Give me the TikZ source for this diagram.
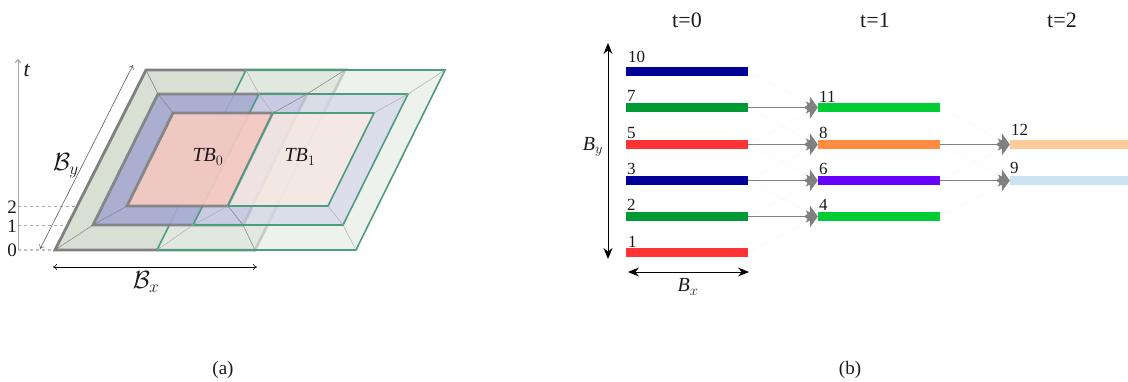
\documentclass[tikz,border=0pt]{standalone}
\usepackage{fontspec}
\setmainfont{Liberation Serif}
\usepackage{xcolor}
\usetikzlibrary{positioning,arrows.meta}
\definecolor{ink}{HTML}{1B1919}
\definecolor{edgeGray}{HTML}{808080}
\definecolor{edgeTeal}{HTML}{4E9C80}
\definecolor{sDarkBlue}{HTML}{000099}
\definecolor{sDarkGreen}{HTML}{009933}
\definecolor{sRed}{HTML}{FF3333}
\definecolor{sGreen}{HTML}{00CC33}
\definecolor{sOrange}{HTML}{FF8C40}
\definecolor{sViolet}{HTML}{6600FF}
\definecolor{sPeach}{HTML}{FFCC99}
\definecolor{sSky}{HTML}{CCE3F2}
\definecolor{zeroOut}{RGB}{216,224,212}
\definecolor{zeroMid}{RGB}{165,170,210}
\definecolor{zeroIn}{RGB}{248,203,193}
\definecolor{oneOut}{RGB}{229,236,228}
\definecolor{oneMid}{RGB}{213,215,235}
\definecolor{oneIn}{RGB}{255,236,226}
\tikzset{
  sz/.style={font=\fontsize{#1}{#1}\selectfont},
  numb/.style={sz=17, inner sep=0pt, anchor=base west, text=ink},
  lbl/.style={sz=20, text=ink},
}
\begin{document}
\begin{tikzpicture}[x=1pt, y=-1pt,
  zero/.style={line join=miter, draw=edgeGray, line width=2.8pt},
  one/.style={line join=miter, draw=edgeTeal, line width=1.6pt, fill opacity=0.7},
  bevel/.style={draw=ink!55, line width=0.5pt},
  barn/.style={rectangle, inner sep=0pt, minimum width=122pt, minimum height=9pt},
  arr/.style={-{Stealth[length=12pt, width=12pt, inset=3pt, color=edgeGray]}, draw=edgeGray, line width=1pt},
  ghost/.style={-{Stealth[length=12pt, width=12pt, inset=3pt, color=edgeGray]}, draw=ink!4, line width=0.5pt},
  span/.style={{Stealth[length=11pt, width=9pt]}-{Stealth[length=11pt, width=9pt]}, draw=black, line width=1pt},
  thin arr/.style={{To[length=4pt, width=6pt]}-{To[length=4pt, width=6pt]}, line width=0.6pt}]
\useasboundingbox (0,0) rectangle (1128,381);
% corners of TB0
\coordinate (a0) at (55,250); \coordinate (b0) at (255,250); \coordinate (c0) at (345,70); \coordinate (d0) at (146,70);
\coordinate (e0) at (93,225); \coordinate (f0) at (243,225); \coordinate (g0) at (307,94); \coordinate (h0) at (158,94);
\coordinate (i0) at (127,206); \coordinate (j0) at (228,206); \coordinate (k0) at (273,113); \coordinate (l0) at (173,113);
% corners of TB1
\coordinate (a1) at (157,250); \coordinate (b1) at (356,250); \coordinate (c1) at (445,70); \coordinate (d1) at (246,70);
\coordinate (e1) at (193,225); \coordinate (f1) at (343,225); \coordinate (g1) at (408,94); \coordinate (h1) at (259,94);
\coordinate (i1) at (228,206); \coordinate (j1) at (328,206); \coordinate (k1) at (374,113); \coordinate (l1) at (273,113);
% time axis
\coordinate (t0) at (18,250); \coordinate (t1) at (18,225); \coordinate (t2) at (18,206); \coordinate (tt) at (18,59);
\draw[-{To[length=4pt, width=6pt]}, black!35, line width=1pt] (t0) -- (tt);
\draw[dashed, black!35, line width=0.6pt] (t2) -- (i0);
\draw[dashed, black!35, line width=0.6pt] (t1) -- (e0);
\draw[dashed, black!25, line width=1.2pt] (t0) -- (a0);
% layers, bottom to top
\draw[zero, fill=zeroOut] (a0) -- (b0) -- (c0) -- (d0) -- cycle;
\draw[one, fill=oneOut] (a1) -- (b1) -- (c1) -- (d1) -- cycle;
\draw[zero, fill=zeroMid, opacity=0.9] (e0) -- (f0) -- (g0) -- (h0) -- cycle;
\draw[one, fill=oneMid] (e1) -- (f1) -- (g1) -- (h1) -- cycle;
\draw[zero, fill=zeroIn, opacity=0.9] (i0) -- (j0) -- (k0) -- (l0) -- cycle;
\draw[one, fill=oneIn] (i1) -- (j1) -- (k1) -- (l1) -- cycle;
% bevels
\draw[bevel] (a0) -- (e0) -- (i0); \draw[bevel] (b0) -- (f0) -- (j0);
\draw[bevel] (c0) -- (g0) -- (k0); \draw[bevel] (d0) -- (h0) -- (l0);
\draw[bevel, ink!35] (a1) -- (e1) -- (i1); \draw[bevel, ink!35] (b1) -- (f1) -- (j1);
\draw[bevel, ink!35] (c1) -- (g1) -- (k1); \draw[bevel, ink!35] (d1) -- (h1) -- (l1);
\node[lbl] (tb0) at (208,157) {\textit{TB}$_0$};
\node[lbl] (tb1) at (300,157) {\textit{TB}$_1$};
\node[lbl, sz=22] (tname) at (27,70) {\textit{t}};
\node[numb, anchor=center, sz=19] (two) at (12,207) {2};
\node[numb, anchor=center, sz=19] (one) at (12,226) {1};
\node[numb, anchor=center, sz=19] (zer) at (12,250) {0};
\coordinate (yl) at (40,249); \coordinate (yh) at (133,65);
\coordinate (xl) at (53,267); \coordinate (xh) at (257,267);
\draw[thin arr, ink!70] (yl) -- (yh);
\draw[thin arr, black] (xl) -- (xh);
\node[lbl, sz=24] (by) at (66,166) {$\mathcal{B}_y$};
\node[lbl, sz=24] (bx) at (146,282) {$\mathcal{B}_x$};
\node[lbl, sz=19] (capa) at (223,370) {(a)};
% t=0
\node[lbl, sz=22] (head0) at (687,20) {t=0};
\node[lbl, sz=22] (head1) at (875,20) {t=1};
\node[lbl, sz=22] (head2) at (1062,20) {t=2};
\node[barn, fill=sDarkBlue] (bar10) at (687,71.5) {};
\node[barn, fill=sDarkGreen] (bar7) at (687,107.5) {};
\node[barn, fill=sRed] (bar5) at (687,144.5) {};
\node[barn, fill=sDarkBlue] (bar3) at (687,180.5) {};
\node[barn, fill=sDarkGreen] (bar2) at (687,216.5) {};
\node[barn, fill=sRed] (bar1) at (687,252.5) {};
% t=1
\node[barn, fill=sGreen] (bar11) at (879,107.5) {};
\node[barn, fill=sOrange] (bar8) at (879,144.5) {};
\node[barn, fill=sViolet] (bar6) at (879,180.5) {};
\node[barn, fill=sGreen] (bar4) at (879,216.5) {};
% t=2
\node[barn, fill=sPeach, minimum width=118pt] (bar12) at (1069,144.5) {};
\node[barn, fill=sSky, minimum width=118pt] (bar9) at (1069,180.5) {};
\node[numb] (n10) at (628,62.7) {10};
\node[numb] (n7) at (627,101.7) {7};
\node[numb] (n5) at (627,138) {5};
\node[numb] (n3) at (627,174) {3};
\node[numb] (n2) at (627,210) {2};
\node[numb] (n1) at (628,247) {1};
\node[numb] (n11) at (819,102) {11};
\node[numb] (n8) at (819,138.5) {8};
\node[numb] (n6) at (819,174) {6};
\node[numb] (n4) at (819,210) {4};
\node[numb] (n12) at (1011,135) {12};
\node[numb] (n9) at (1010,173) {9};
\draw[ghost] (bar10.east) -- (bar11.west); \draw[ghost] (bar5.east) -- (bar11.west);
\draw[ghost] (bar7.east) -- (bar8.west); \draw[ghost] (bar3.east) -- (bar8.west);
\draw[ghost] (bar5.east) -- (bar6.west); \draw[ghost] (bar2.east) -- (bar6.west);
\draw[ghost] (bar3.east) -- (bar4.west); \draw[ghost] (bar1.east) -- (bar4.west);
\draw[ghost] (bar11.east) -- (bar12.west); \draw[ghost] (bar6.east) -- (bar12.west);
\draw[ghost] (bar8.east) -- (bar9.west); \draw[ghost] (bar4.east) -- (bar9.west);
\draw[arr] (bar7) -- (bar11); \draw[arr] (bar5) -- (bar8); \draw[arr] (bar3) -- (bar6); \draw[arr] (bar2) -- (bar4);
\draw[arr] (bar8) -- (bar12); \draw[arr] (bar6) -- (bar9);
\coordinate (byh) at (608,43); \coordinate (byl) at (608,259);
\coordinate (bxl) at (628,272); \coordinate (bxh) at (749,272);
\draw[span] (byh) -- (byl);
\draw[span] (bxl) -- (bxh);
\node[lbl] (by2) at (593,147) {\textit{B}$_y$};
\node[lbl] (bx2) at (688,287) {\textit{B}$_x$};
\node[lbl, sz=19] (capb) at (850,370) {(b)};
\end{tikzpicture}
\end{document}
